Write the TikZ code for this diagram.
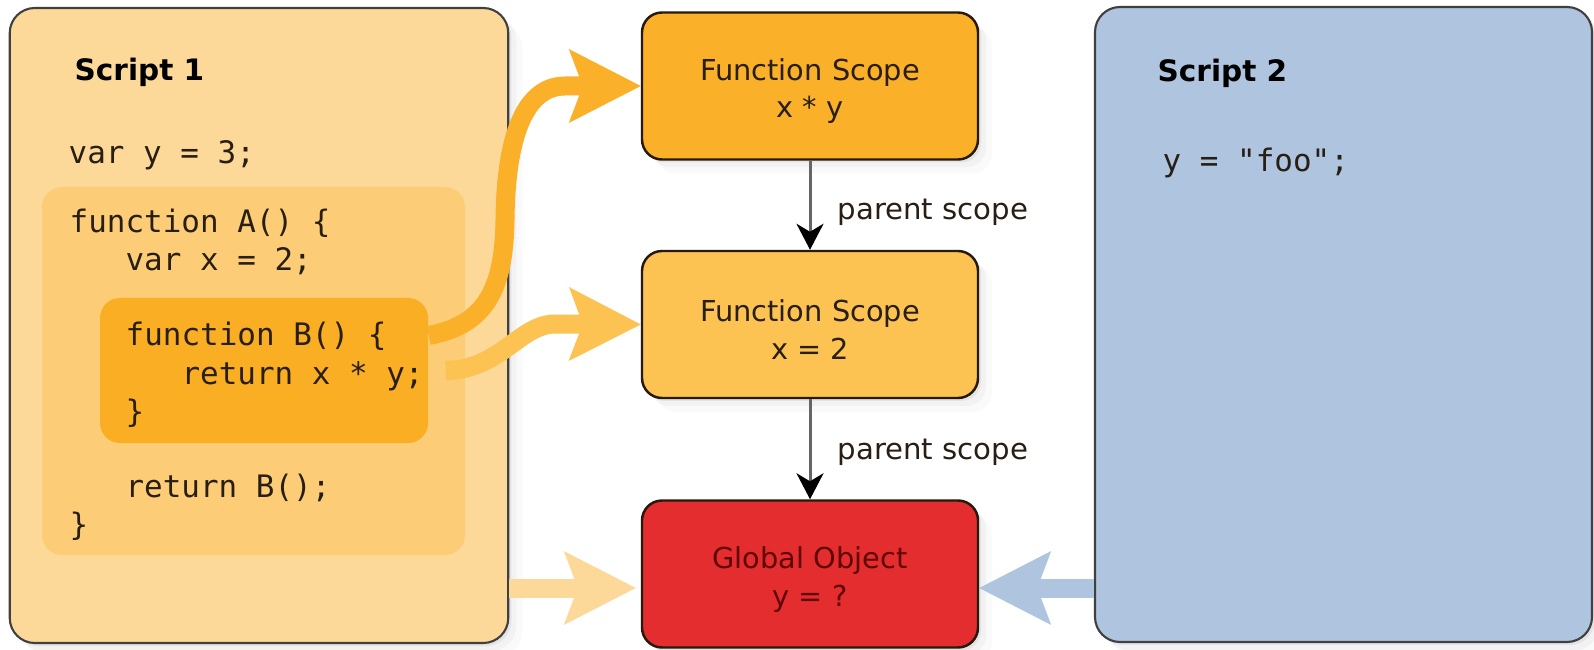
\documentclass[tikz,border=0pt]{standalone}
\usepackage{fontspec}
\setmainfont{DejaVu Sans}
\setsansfont{DejaVu Sans}
\setmonofont{DejaVu Sans Mono}
\usetikzlibrary{arrows.meta,shadows}

\definecolor{scriptone}{RGB}{253,217,153}
\definecolor{funca}{RGB}{252,205,118}
\definecolor{funcb}{RGB}{250,174,36}
\definecolor{scopeone}{RGB}{250,176,40}
\definecolor{scopetwo}{RGB}{252,195,82}
\definecolor{globalred}{RGB}{228,45,47}
\definecolor{globaltext}{RGB}{95,5,5}
\definecolor{scripttwo}{RGB}{174,196,223}
\definecolor{codetext}{RGB}{40,30,20}

\newcommand{\ind}{\hphantom{xxx}}

\tikzset{
    softshadow/.style={
        drop shadow={shadow xshift=0.03cm, shadow yshift=-0.03cm, opacity=0.12},
        drop shadow={shadow xshift=0.08cm, shadow yshift=-0.08cm, opacity=0.07},
        drop shadow={shadow xshift=0.14cm, shadow yshift=-0.14cm, opacity=0.04}},
    scriptbox/.style={rounded corners=0.25cm, draw=black!75, line width=0.6pt, softshadow},
    codebox/.style={rounded corners=0.2cm, inner sep=0pt},
    scopebox/.style={rounded corners=0.2cm, draw=black!80!brown, line width=0.7pt,
        minimum width=3.36cm, minimum height=1.47cm, align=center, inner sep=0pt,
        text height=0.7cm, font=\fontsize{8.2}{10.8}\selectfont, text=codetext, softshadow},
    code/.style={font=\ttfamily\fontsize{8.8}{10.95}\selectfont, align=left,
        inner sep=0pt, anchor=west, text=codetext},
    title/.style={font=\bfseries\fontsize{8.4}{10}\selectfont, inner sep=0pt, anchor=west},
    label/.style={font=\fontsize{8.3}{10}\selectfont, inner sep=0pt, anchor=west, text=codetext},
    fat/.style={line width=0.19cm,
        -{Stealth[length=0.72cm, width=0.74cm, inset=0.14cm, line width=0pt 0 0]}},
    parent/.style={draw=black!60, line width=0.85pt,
        -{Stealth[length=0.26cm, width=0.27cm, inset=0.08cm, black]}}
}

\begin{document}
\begin{tikzpicture}[x=1cm, y=-1cm]
    \useasboundingbox (0,0) rectangle (15.94,6.5);

    \node[scriptbox, fill=scriptone, minimum width=4.985cm, minimum height=6.35cm] (script1) at (2.59,3.255) {};
    \node[codebox, fill=funca, minimum width=4.23cm, minimum height=3.68cm] (funcA) at (2.535,3.71) {};
    \node[codebox, fill=funcb, minimum width=3.28cm, minimum height=1.45cm] (funcB) at (2.64,3.705) {};
    \node[scriptbox, fill=scripttwo, minimum width=4.97cm, minimum height=6.35cm] (script2) at (13.435,3.245) {};

    \node[title] (s1title) at (0.74,0.72) {Script 1};
    \node[code] (vary) at (0.68,1.55) {var y = 3;};
    \node[code] (abody) at (0.69,2.42) {function A() \{\\\ind var x = 2;};
    \node[code] (bbody) at (1.25,3.75) {function B() \{\\\ind return x * y;\\\}};
    \node[code] (rbody) at (0.69,5.075) {\ind return B();\\\}};

    \node[title] (s2title) at (11.57,0.73) {Script 2};
    \node[code] (foo) at (11.62,1.63) {y = "foo";};

    \node[scopebox, fill=scopeone] (scope1) at (8.10,0.86) {Function Scope\\x * y};
    \node[scopebox, fill=scopetwo] (scope2) at (8.10,3.245) {Function Scope\\x = 2};
    \node[scopebox, fill=globalred, text=globaltext] (global) at (8.10,5.74) {Global Object\\y = ?};

    \draw[parent] (scope1) -- (scope2);
    \draw[parent] (scope2) -- (global);
    \node[label] (p1) at (8.37,2.12) {parent scope};
    \node[label] (p2) at (8.37,4.52) {parent scope};

    \coordinate (gleft) at ([yshift=-0.14cm]global.west);
    \coordinate (gright) at ([yshift=-0.14cm]global.east);

    \draw[fat, scriptone, shorten >=0.05cm] (script1.east |- gleft) -- (gleft);
    \draw[fat, scripttwo] (script2.west |- gright) -- (gright);
    \draw[fat, scopetwo] ([xshift=0.17cm]funcB.east) .. controls (5.0,3.70) and (5.2,3.24) .. (5.55,3.24) -- (scope2.west);
    \draw[fat, scopeone] ([shift={(0,-0.35)}]funcB.east) .. controls (4.85,3.25) and (5.04,2.9) .. (5.05,2.2)
        .. controls (5.06,1.25) and (5.3,0.86) .. (5.65,0.86) -- (scope1.west);
\end{tikzpicture}
\end{document}
